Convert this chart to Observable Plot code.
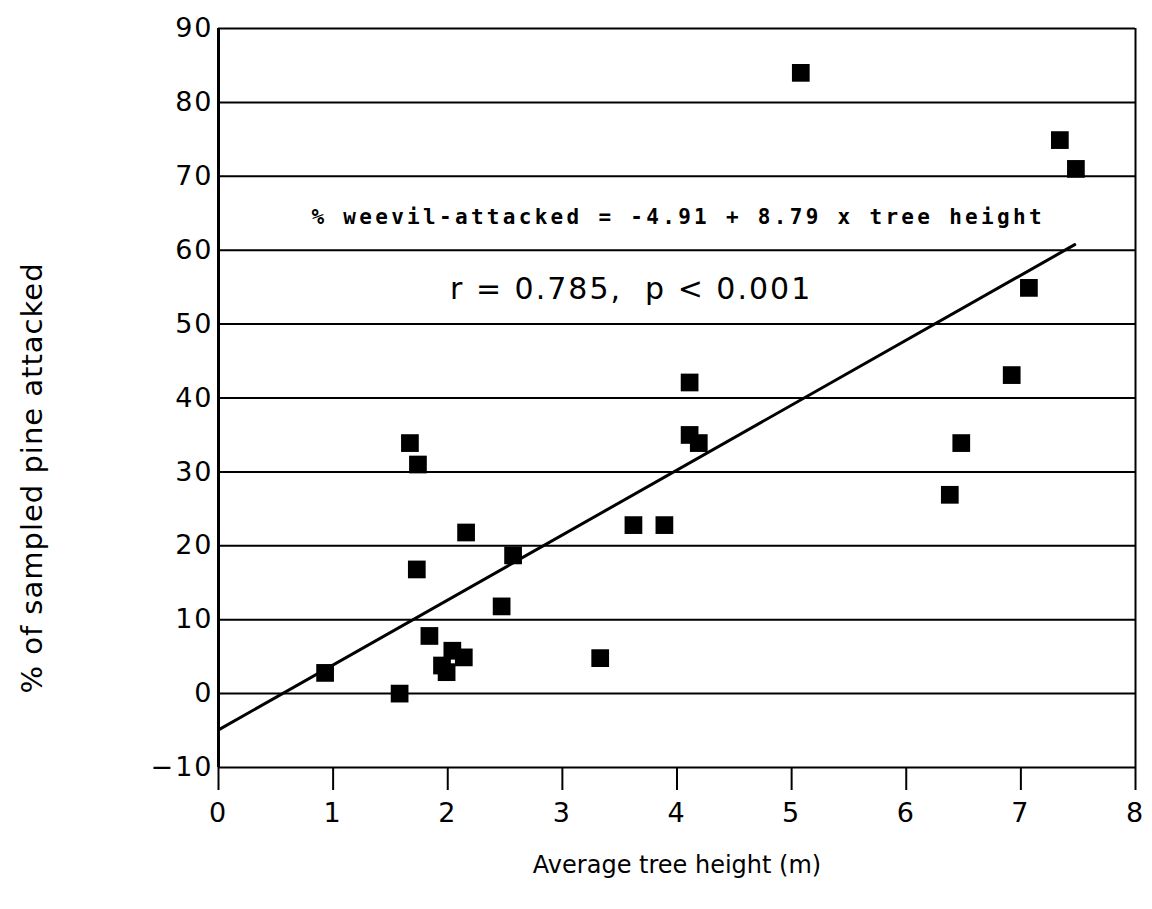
<!DOCTYPE html>
<html><head><meta charset="utf-8">
<script src="https://cdn.jsdelivr.net/npm/d3@7"></script>
<script src="https://cdn.jsdelivr.net/npm/@observablehq/plot@0.6"></script>
<style>body{margin:0;background:#fff}</style>
</head><body><div id="chart"></div>
<script>
// Average tree height (m) per site
const heights = [0.93, 1.58, 1.67, 1.74, 1.73, 1.84, 1.95, 1.99, 2.04, 2.14, 2.16, 2.47, 2.57,
                 3.33, 3.62, 3.89, 4.11, 4.11, 4.19, 5.08, 6.38, 6.48, 6.92, 7.07, 7.34, 7.48];
// % of sampled pine attacked per site
const attacked = [2.8, 0.0, 33.9, 31.0, 16.8, 7.8, 3.8, 2.9, 5.8, 4.9, 21.8, 11.8, 18.7,
                  4.8, 22.8, 22.8, 42.1, 35.0, 33.9, 84.0, 26.9, 33.9, 43.1, 54.9, 74.9, 71.0];
const xTicks = [0, 1, 2, 3, 4, 5, 6, 7, 8];
const yTicks = [-10, 0, 10, 20, 30, 40, 50, 60, 70, 80, 90];
const fitIntercept = -4.91;
const fitSlope = 8.79;
const fitRange = [0, 7.47];
const equationText = "% weevil-attacked = -4.91 + 8.79 x tree height";
const statsText = "r = 0.785,  p < 0.001";
const xLabel = "Average tree height (m)";
const yLabel = "% of sampled pine attacked";

const points = heights.map((h, i) => ({h, a: attacked[i]}));
const fit = fitRange.map(h => ({h, a: fitIntercept + fitSlope * h}));

const chart = Plot.plot({
  width: 1152, height: 909,
  marginLeft: 218, marginRight: 17, marginTop: 28, marginBottom: 142,
  style: {fontFamily: "'DejaVu Sans', sans-serif", fontSize: "27px", color: "black", background: "white"},
  x: {domain: [0, 8]},
  y: {domain: [-10, 90]},
  marks: [
    Plot.ruleY(yTicks, {stroke: "black", strokeWidth: 2}),
    Plot.ruleX([0], {stroke: "black", strokeWidth: 3}),
    Plot.ruleX([8], {stroke: "black", strokeWidth: 2}),
    Plot.axisX({ticks: xTicks, tickSize: 23, tickPadding: 12, strokeWidth: 2, label: null, fontSize: 27}),
    Plot.axisY({ticks: yTicks, tickSize: 0, tickPadding: 5, label: null, fontSize: 27}),
    Plot.line(fit, {x: "h", y: "a", stroke: "black", strokeWidth: 3}),
    Plot.dot(points, {x: "h", y: "a", symbol: "square", r: 10, fill: "black", stroke: "none"}),
    Plot.text([equationText], {x: 4.01, y: 64.4, text: d => d, fontFamily: "'DejaVu Sans Mono', monospace",
      fontWeight: "bold", fontSize: 21, fill: "black", textAnchor: "middle", lineAnchor: "middle"}),
    Plot.text([statsText], {x: 3.6, y: 54.7, text: d => d, fontSize: 30, fill: "black",
      textAnchor: "middle", lineAnchor: "middle"}),
    Plot.text([xLabel], {frameAnchor: "bottom", dy: 98, text: d => d, fontSize: 24, fill: "black",
      textAnchor: "middle", lineAnchor: "middle"}),
    Plot.text([yLabel], {frameAnchor: "left", dx: -186, dy: 80, rotate: -90, text: d => d, fontSize: 29,
      fill: "black", textAnchor: "middle", lineAnchor: "middle"})
  ]
});
const svg = d3.select(chart);
svg.selectAll("text").filter(function(){ return this.textContent === equationText; })
  .style("letter-spacing", "3.3px").style("white-space", "pre");
svg.selectAll("text").filter(function(){ return this.textContent === statsText; })
  .style("letter-spacing", "2px").style("white-space", "pre");
svg.selectAll("text").filter(function(){ return this.textContent === yLabel; })
  .style("letter-spacing", "1px");
svg.selectAll("[aria-label='y-axis tick label'] text, [aria-label='x-axis tick label'] text")
  .style("letter-spacing", "2px");
document.getElementById("chart").appendChild(chart);
</script>
</body></html>
